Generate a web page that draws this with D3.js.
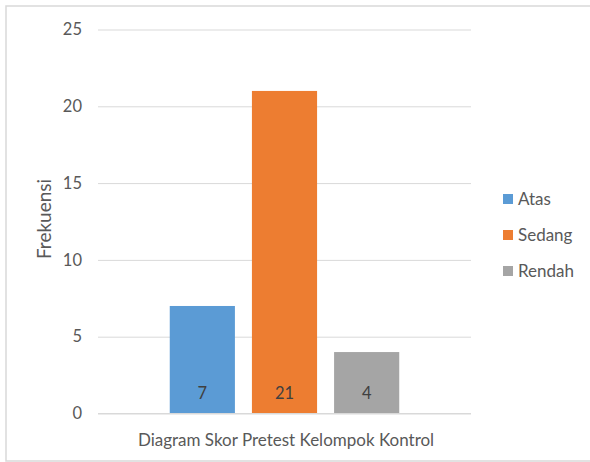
<!DOCTYPE html>
<html>
<head>
<meta charset="utf-8">
<script src="https://cdn.jsdelivr.net/npm/d3@7"></script>
<style>
  html, body { margin: 0; padding: 0; background: #fff; }
  svg { display: block; }
  text { font-family: Lato, "Open Sans", sans-serif; }
</style>
</head>
<body>
<svg id="chart" width="590" height="462"></svg>
<script>
const categories = ["Diagram Skor Pretest Kelompok Kontrol"];
const seriesNames = ["Atas", "Sedang", "Rendah"];
const seriesValues = [7, 21, 4];
const seriesColors = ["#5b9bd5", "#ed7d31", "#a5a5a5"];
const yTicks = [0, 5, 10, 15, 20, 25];
const yTitle = "Frekuensi";

const svg = d3.select("#chart");

// outer border
svg.append("rect")
  .attr("x", 6).attr("y", 6).attr("width", 590).attr("height", 455)
  .attr("fill", "none").attr("stroke", "#d9d9d9").attr("stroke-width", 1.5);

const plot = { left: 98, right: 471, top: 29.5, bottom: 413.5 };

const y = d3.scaleLinear().domain([0, 25]).range([plot.bottom, plot.top]);
const x0 = d3.scaleBand().domain(categories).range([plot.left, plot.right])
  .paddingInner(0).paddingOuter(0.2566);
const x1 = d3.scaleBand().domain(seriesNames).range([0, x0.bandwidth()])
  .paddingInner(0.207).paddingOuter(0.1035);

// gridlines
const yAxis = d3.axisLeft(y).tickValues(yTicks).tickSize(-(plot.right - plot.left)).tickPadding(16);
const gy = svg.append("g").attr("transform", `translate(${plot.left},0)`).call(yAxis);
gy.select(".domain").remove();
gy.selectAll(".tick line").attr("stroke", "#d9d9d9").attr("stroke-width", 1);
gy.selectAll(".tick text").attr("fill", "#595959").style("font-size", "16.5px")
  .style("font-family", "Lato, 'Open Sans', sans-serif");

// bars
const data = seriesNames.map((s, i) => ({ name: s, value: seriesValues[i], color: seriesColors[i] }));
const g = svg.append("g").attr("transform", `translate(${x0(categories[0])},0)`);
g.selectAll("rect").data(data).enter().append("rect")
  .attr("x", d => x1(d.name))
  .attr("y", d => y(d.value))
  .attr("width", x1.bandwidth())
  .attr("height", d => y(0) - y(d.value))
  .attr("fill", d => d.color);

g.selectAll("text.lbl").data(data).enter().append("text")
  .attr("class", "lbl")
  .attr("x", d => x1(d.name) + x1.bandwidth() / 2)
  .attr("y", y(0) - 20)
  .attr("dy", "0.35em")
  .attr("text-anchor", "middle")
  .attr("fill", "#404040")
  .style("font-size", "16.5px")
  .text(d => d.value);

// baseline
svg.append("line").attr("x1", plot.left).attr("x2", plot.right)
  .attr("y1", y(0)).attr("y2", y(0)).attr("stroke", "#d9d9d9").attr("stroke-width", 1);

// x category label
svg.append("text")
  .attr("x", 286)
  .attr("y", 440).attr("dy", "0.35em")
  .attr("text-anchor", "middle")
  .attr("fill", "#595959")
  .style("font-size", "17px")
  .text(categories[0]);

// y title
svg.append("text")
  .attr("transform", "translate(44,219) rotate(-90)")
  .attr("text-anchor", "middle")
  .attr("dy", "0.35em")
  .attr("fill", "#595959")
  .style("font-size", "19px")
  .text(yTitle);

// legend
const leg = svg.append("g").attr("transform", "translate(503,199)");
const li = leg.selectAll("g").data(data).enter().append("g")
  .attr("transform", (d, i) => `translate(0,${i * 36})`);
li.append("rect").attr("x", 0).attr("y", -5).attr("width", 10).attr("height", 10)
  .attr("fill", d => d.color);
li.append("text").attr("x", 15).attr("y", 0).attr("dy", "0.35em")
  .attr("fill", "#595959").style("font-size", "17px")
  .text(d => d.name);
</script>
</body>
</html>
